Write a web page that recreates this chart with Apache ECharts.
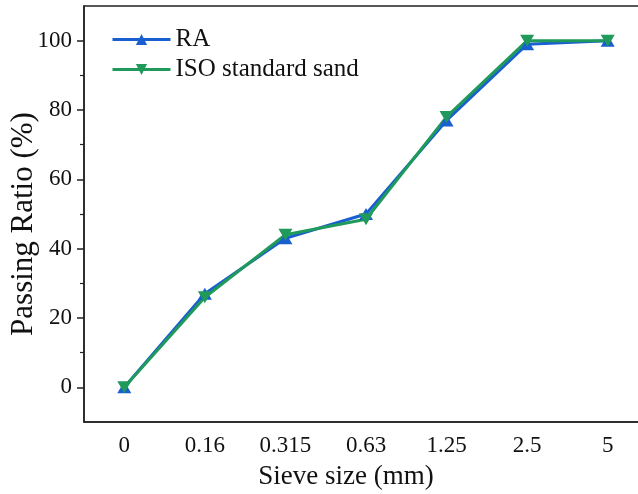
<!DOCTYPE html>
<html>
<head>
<meta charset="utf-8">
<script src="https://cdn.jsdelivr.net/npm/echarts@6/dist/echarts.min.js"></script>
<style>html,body{margin:0;padding:0;background:#fff;}#c{width:638px;height:494px;}</style>
</head>
<body>
<div id="c"></div>
<script>
var categories = ['0', '0.16', '0.315', '0.63', '1.25', '2.5', '5'];
var raValues = [0, 27, 43, 50, 77, 99, 100];
var isoValues = [0, 26, 44, 48.5, 78, 100, 100];
var yMajorTicks = [0, 20, 40, 60, 80, 100];
var yMinorTicks = [10, 30, 50, 70, 90];

var FONT = '"Liberation Serif", "Times New Roman", serif';
var BLUE = '#1a5fcf';
var GREEN = '#1f9a5a';
var AX = '#222';

var chart = echarts.init(document.getElementById('c'));
chart.setOption({
  animation: false,
  backgroundColor: '#fff',
  grid: { left: 84, top: 6, right: -10, bottom: 72, outerBoundsMode: 'none', containLabel: false,
          show: true, borderColor: AX, borderWidth: 1.5, backgroundColor: 'transparent' },
  legend: {
    orient: 'vertical', left: 111, top: 27, padding: 0, itemWidth: 58, itemHeight: 14, itemGap: 5,
    lineStyle: { width: 3 },
    textStyle: { fontFamily: FONT, fontSize: 25, color: '#111' },
    data: ['RA', 'ISO standard sand']
  },
  xAxis: [{
    type: 'category', data: categories, position: 'bottom', boundaryGap: true,
    axisLine: { onZero: false, lineStyle: { color: AX, width: 1.5 } },
    axisTick: { alignWithLabel: true, length: 7, lineStyle: { color: AX, width: 1.5 } },
    axisLabel: { fontFamily: FONT, fontSize: 23, color: '#111', margin: 12 },
    name: 'Sieve size (mm)', nameLocation: 'middle', nameGap: 41, nameMoveOverlap: false,
    nameTextStyle: { fontFamily: FONT, fontSize: 27, color: '#111', padding: [0, 40, 0, 0] },
    splitLine: { show: false }
  }, {
    type: 'category', data: categories, position: 'bottom', boundaryGap: true,
    axisLine: { show: false, onZero: false },
    axisTick: { length: 4, lineStyle: { color: AX, width: 1.2 } },
    axisLabel: { show: false },
    splitLine: { show: false }
  }],
  yAxis: [{
    type: 'value', min: -10, max: 110,
    axisLine: { show: true, onZero: false, lineStyle: { color: AX, width: 1.5 } },
    axisTick: { show: true, length: 7, customValues: yMajorTicks, lineStyle: { color: AX, width: 1.5 } },
    axisLabel: { fontFamily: FONT, fontSize: 23, color: '#111', margin: 12, customValues: yMajorTicks },
    splitLine: { show: false },
    name: 'Passing Ratio (%)', nameLocation: 'middle', nameGap: 45, nameRotate: 90, nameMoveOverlap: false,
    nameTextStyle: { fontFamily: FONT, fontSize: 31, color: '#111', padding: [0, 20, 0, 0] }
  }, {
    type: 'value', min: -10, max: 110, position: 'left',
    axisLine: { show: false, onZero: false },
    axisTick: { show: true, length: 4, customValues: yMinorTicks, lineStyle: { color: AX, width: 1.2 } },
    axisLabel: { show: false },
    splitLine: { show: false }
  }],
  series: [{
    name: 'RA', type: 'line', data: raValues, xAxisIndex: 0, yAxisIndex: 0,
    symbol: 'triangle', symbolSize: [14, 12],
    lineStyle: { color: BLUE, width: 3 }, itemStyle: { color: BLUE }
  }, {
    name: 'ISO standard sand', type: 'line', data: isoValues, xAxisIndex: 0, yAxisIndex: 0,
    symbol: 'triangle', symbolRotate: 180, symbolSize: [14, 12],
    lineStyle: { color: GREEN, width: 3 }, itemStyle: { color: GREEN }
  }]
});
</script>
</body>
</html>
